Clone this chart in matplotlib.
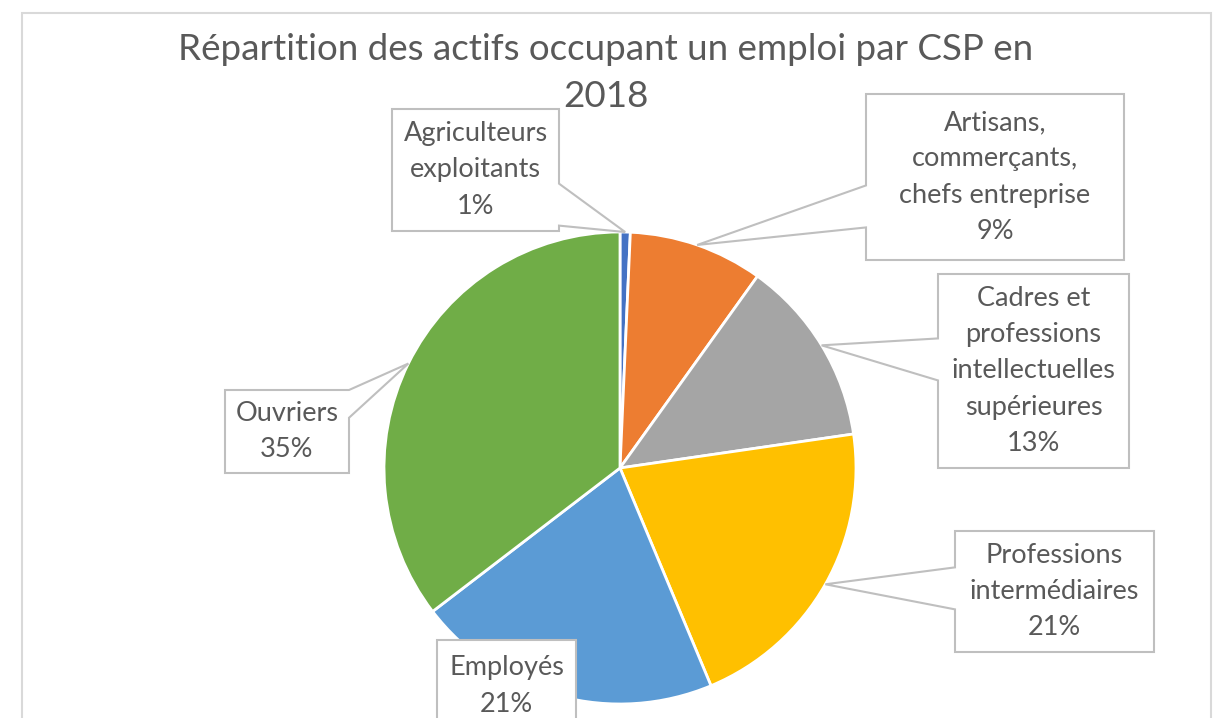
import numpy as np
import matplotlib
matplotlib.use('Agg')
import matplotlib.pyplot as plt
from matplotlib.patches import Polygon, Rectangle
from matplotlib.transforms import IdentityTransform

plt.rcParams['font.family'] = ['Lato', 'DejaVu Sans']

# Data
categories = ['Agriculteurs\nexploitants', 'Artisans,\ncommerçants,\nchefs entreprise',
              'Cadres et\nprofessions\nintellectuelles\nsupérieures',
              'Professions\nintermédiaires', 'Employés', 'Ouvriers']
values = [0.7, 9.2, 12.8, 21.0, 20.9, 35.4]
colors = ['#4472C4', '#ED7D31', '#A5A5A5', '#FFC000', '#5B9BD5', '#70AD47']
title = 'Répartition des actifs occupant un emploi par CSP en\n2018'

# label boxes: centre x, centre y (from top), width, height in pixels
boxes = [(475.5, 170, 167, 122), (995, 177, 258, 166), (1033.5, 371, 191, 194),
         (1054.5, 591.5, 199, 121), (506.5, 686, 139, 92), (287, 431.5, 124, 83)]
has_leader = [True, True, True, True, False, True]

W, H = 1214, 718
TEXT = '#595959'
EDGE = '#bfbfbf'

fig = plt.figure(figsize=(W / 100, H / 100), dpi=100)

# chart area frame
fig.add_artist(Rectangle((22 / W, -0.05), 1189 / W, (705 / H) + 0.05, transform=fig.transFigure,
                         fill=False, edgecolor='#d9d9d9', linewidth=1.5))

# pie
cx, cy, r = 620, 718 - 468, 236
ax = fig.add_axes([(cx - r) / W, (cy - r) / H, 2 * r / W, 2 * r / H])
ax.pie(values, colors=colors, startangle=90, counterclock=False, radius=1,
       wedgeprops=dict(edgecolor='white', linewidth=2))
ax.set_xlim(-1, 1)
ax.set_ylim(-1, 1)
ax.apply_aspect()

fig.text(605.5 / W, (H - 73) / H, title, ha='center', va='center', fontsize=26.5,
         color=TEXT, linespacing=1.5)


def callout(bx, by, w, h, tip, half=21):
    x0, x1 = bx - w / 2, bx + w / 2
    y0, y1 = by - h / 2, by + h / 2
    corners = [(x0, y0), (x1, y0), (x1, y1), (x0, y1)]
    if tip is None:
        return corners
    dx, dy = tip[0] - bx, tip[1] - by
    tx = (w / 2) / abs(dx) if dx else np.inf
    ty = (h / 2) / abs(dy) if dy else np.inf
    k = min(tx, ty)
    e = np.array([bx + k * dx, by + k * dy])
    if tx < ty:
        side = 1 if dx > 0 else 3
    else:
        side = 2 if dy > 0 else 0
    a = np.array(corners[side])
    b = np.array(corners[(side + 1) % 4])
    L = np.linalg.norm(b - a)
    u = (b - a) / L
    s = np.dot(e - a, u)
    s1, s2 = max(s - half, 0), min(s + half, L)
    verts = []
    for i in range(4):
        verts.append(corners[i])
        if i == side:
            verts += [tuple(a + u * s1), tuple(tip), tuple(a + u * s2)]
    return verts


total = sum(values)
cum = 0
for lab, v, (bx, by, w, h), lead in zip(categories, values, boxes, has_leader):
    mid = np.deg2rad(90 - 360 * (cum + v / 2) / total)
    cum += v
    tip = ax.transData.transform((np.cos(mid), np.sin(mid))) if lead else None
    by = H - by
    poly = Polygon(callout(bx, by, w, h, tip), closed=True, transform=IdentityTransform(),
                   facecolor='white', edgecolor=EDGE, linewidth=1.5, zorder=2)
    fig.add_artist(poly)
    pct = f'{round(v / total * 100):.0f}%'
    fig.text(bx / W, by / H, lab + '\n' + pct, ha='center', va='center', fontsize=19.5,
             color=TEXT, linespacing=1.56, multialignment='center', zorder=3)

fig.savefig('out.png', dpi=100)
